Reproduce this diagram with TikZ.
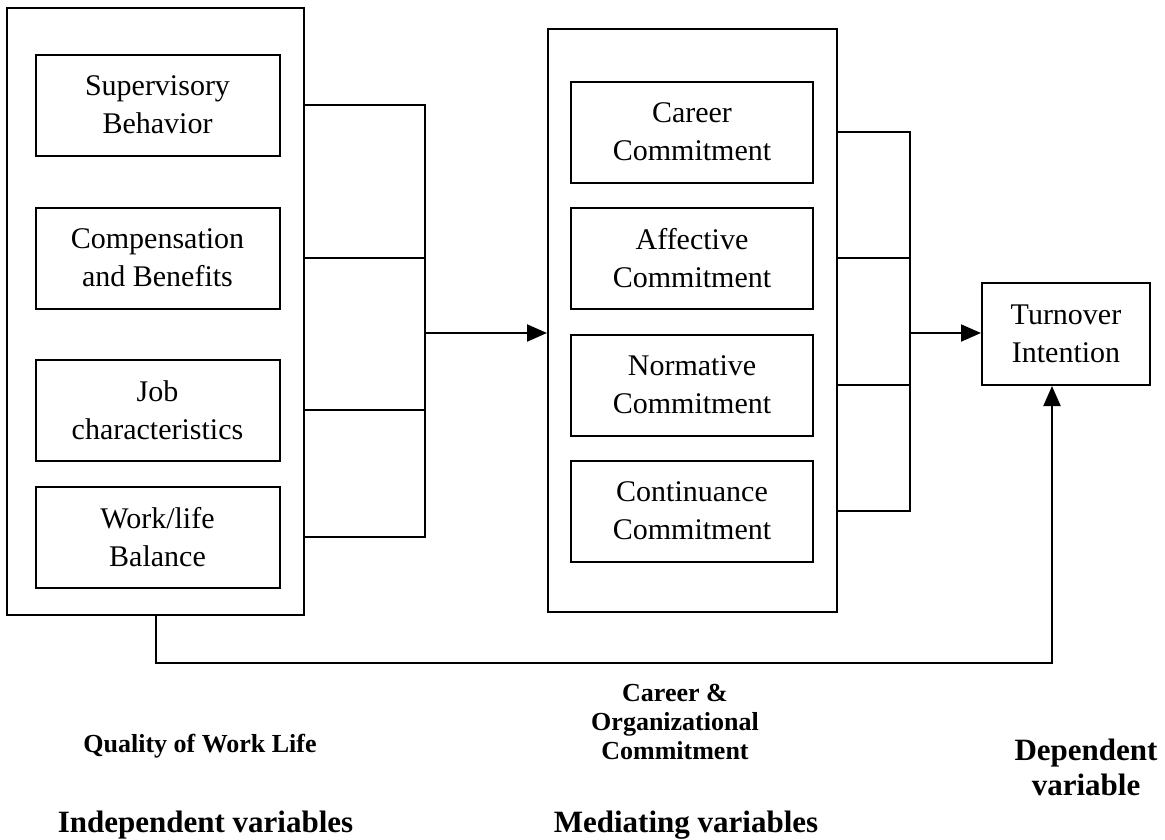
\documentclass[tikz,border=0pt]{standalone}
\usepackage{fontspec}
\setmainfont{Liberation Serif}
\usetikzlibrary{arrows.meta, positioning}

\tikzset{
    outerbox/.style={draw, line width=2pt, inner sep=0pt},
    varbox/.style={draw, line width=2pt, minimum width=244pt, minimum height=101pt,
        align=center, font=\fontsize{30}{38}\selectfont},
    link/.style={line width=2pt},
    flow/.style={line width=2pt, -{Triangle[length=20pt, width=17pt]}},
    smalllabel/.style={align=center, inner sep=0pt, font=\bfseries\fontsize{26}{29}\selectfont},
    biglabel/.style={align=center, inner sep=0pt, font=\bfseries\fontsize{31}{35}\selectfont}
}

\begin{document}
\begin{tikzpicture}[x=1pt, y=-1pt]
    \useasboundingbox (0,0) rectangle (1165,839);

    \node[outerbox, minimum width=297pt, minimum height=607pt] (qwl) at (155.5, 311.5) {};
    \node[varbox] (sup) at (157.5, 105) {Supervisory\\Behavior};
    \node[varbox] (comp) at (157.5, 258) {Compensation\\and Benefits};
    \node[varbox] (job) at (157.5, 410) {Job\\characteristics};
    \node[varbox] (wlb) at (157.5, 537) {Work/life\\Balance};

    \node[outerbox, minimum width=289pt, minimum height=583pt] (occ) at (692.5, 320.5) {};
    \node[varbox, minimum width=242pt] (car) at (692, 132) {Career\\Commitment};
    \node[varbox, minimum width=242pt] (aff) at (692, 258) {Affective\\Commitment};
    \node[varbox, minimum width=242pt] (nor) at (692, 385) {Normative\\Commitment};
    \node[varbox, minimum width=242pt] (con) at (692, 511) {Continuance\\Commitment};

    \node[varbox, minimum width=168pt, minimum height=102pt] (ti) at (1066, 334) {Turnover\\Intention};

    \coordinate (lbar) at (425, 333);
    \coordinate (rbar) at (910, 333);
    \coordinate (bend) at (1052, 663);

    \foreach \b in {sup, comp, job, wlb}
        \draw[link] (qwl.east |- \b) -| (lbar);
    \draw[flow] (lbar) -- (lbar -| occ.west);

    \foreach \b in {car, aff, nor, con}
        \draw[link] (occ.east |- \b) -| (rbar);
    \draw[flow] (rbar) -- (rbar -| ti.west);

    \draw[flow] (qwl.south) |- (bend) -- (bend |- ti.south);

    \node[smalllabel] (cocl) at (675, 722) {Career \&\\Organizational\\Commitment};
    \node[smalllabel] (qwll) at (200, 746) {Quality of Work Life};
    \node[biglabel] (depl) at (1086, 767) {Dependent\\variable};
    \node[biglabel] (indl) at (205.5, 825) {Independent variables};
    \node[biglabel] (medl) at (686, 825) {Mediating variables};
\end{tikzpicture}
\end{document}
